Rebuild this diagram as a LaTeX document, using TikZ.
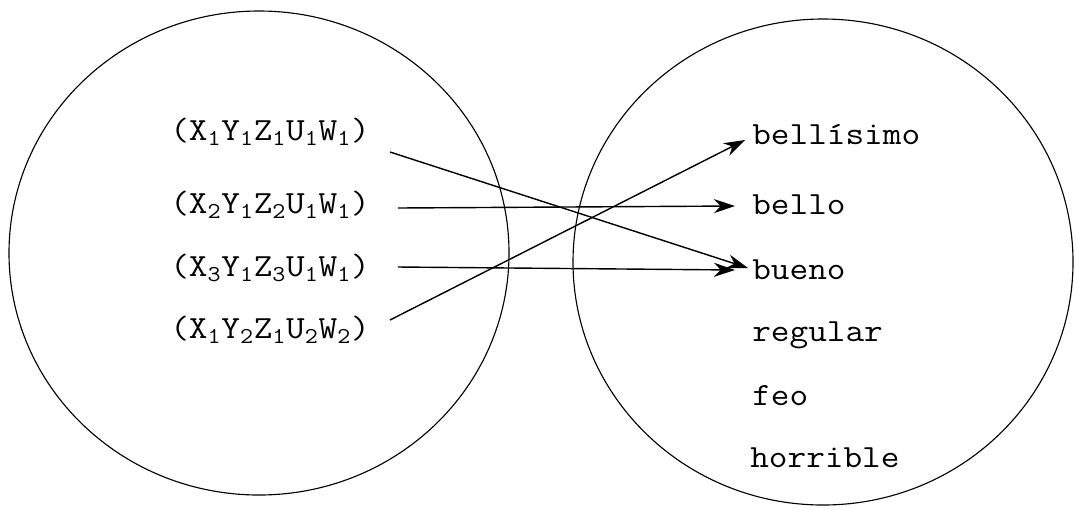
\documentclass[tikz,border=0pt]{standalone}
\usepackage{fontspec}
\setmonofont[FakeStretch=1.12]{Latin Modern Mono}
\usetikzlibrary{arrows.meta}
\newcommand{\tupla}[5]{(X\textsubscript{#1}Y\textsubscript{#2}Z\textsubscript{#3}U\textsubscript{#4}W\textsubscript{#5})}
\tikzset{
  conjunto/.style={draw, line width=0.8pt},
  elem/.style={inner sep=0pt, font=\ttfamily\fontsize{23}{27}\selectfont},
  flecha/.style={line width=1pt, -{Stealth[length=15pt,width=10pt]}}
}
\begin{document}
\begin{tikzpicture}[x=0.025cm, y=-0.025cm]
  \useasboundingbox (0,0) rectangle (1076,509);
  % los dos conjuntos
  \draw[conjunto] (259,253) ellipse [x radius=250, y radius=242];
  \draw[conjunto] (823,262) ellipse [x radius=250, y radius=243];
  % dominio
  \node[elem] (l1) at (270,132) {\tupla{1}{1}{1}{1}{1}};
  \node[elem] (l2) at (270,205) {\tupla{2}{1}{2}{1}{1}};
  \node[elem] (l3) at (270,268) {\tupla{3}{1}{3}{1}{1}};
  \node[elem] (l4) at (270,330) {\tupla{1}{2}{1}{2}{2}};
  % imagen
  \node[elem, anchor=west] (r1) at (752,135) {bellísimo};
  \node[elem, anchor=west] (r2) at (752,205) {bello};
  \node[elem, anchor=west] (r3) at (752,270) {bueno};
  \node[elem, anchor=west] (r4) at (752,335) {regular};
  \node[elem, anchor=west] (r5) at (752,396) {feo};
  \node[elem, anchor=west] (r6) at (750,458) {horrible};
  % asignaciones
  \draw[flecha] ([shift={(20,20)}]l1.east) -- ([shift={(-4,-2)}]r3.west);
  \draw[flecha] ([shift={(28,3)}]l2.east) -- ([shift={(-17,1)}]r2.west);
  \draw[flecha] ([shift={(28,-1)}]l3.east) -- ([shift={(-17,0)}]r3.west);
  \draw[flecha] ([shift={(20,-10)}]l4.east) -- ([shift={(-7,5)}]r1.west);
\end{tikzpicture}
\end{document}
